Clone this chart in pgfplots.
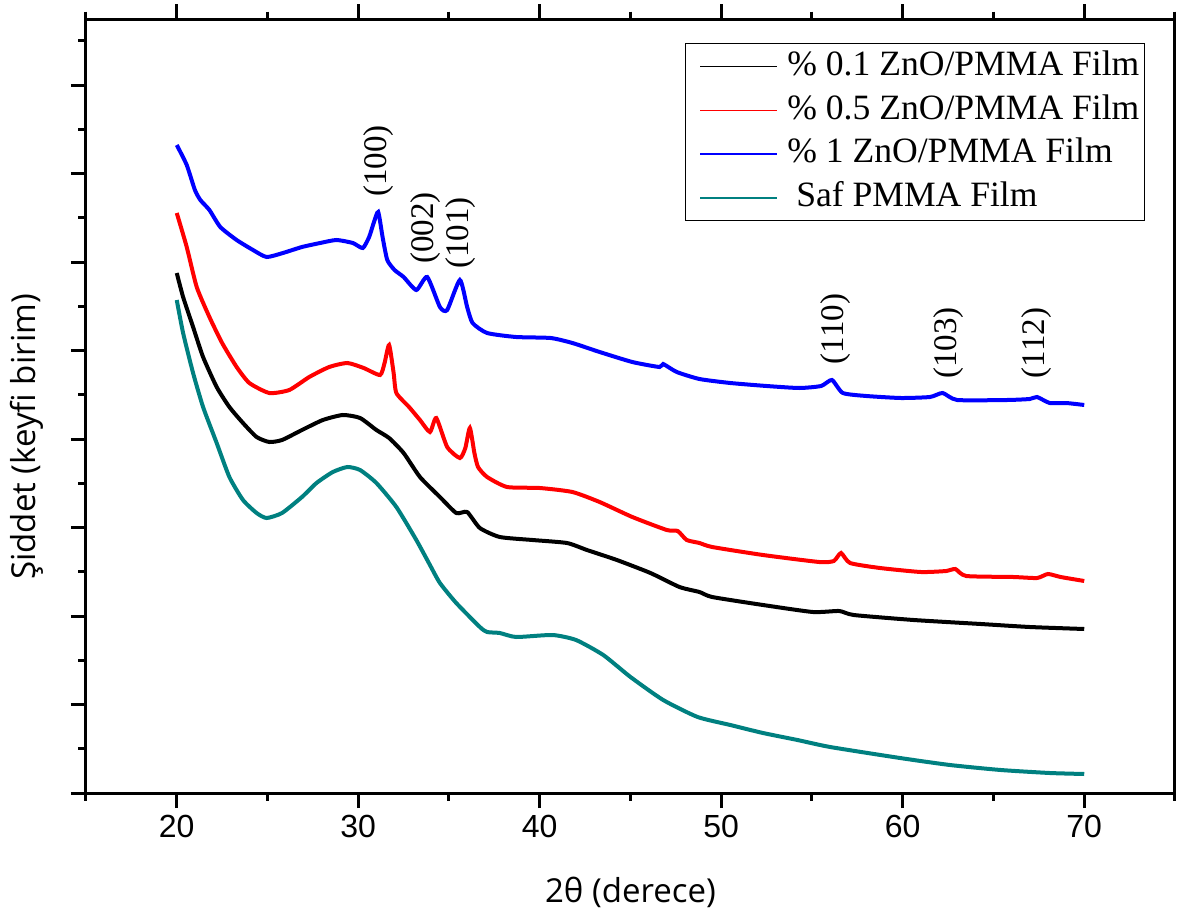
\documentclass[border=0pt]{standalone}
\usepackage{pgfplots}
\pgfplotsset{compat=1.18}
\usepackage{fontspec}
\setmainfont{Liberation Serif}
\newfontfamily\lblfont{Open Sans}
\newfontfamily\tckfont{Liberation Sans}
\definecolor{tealc}{RGB}{0,128,128}

\pgfplotstableread{
x y
20.0 520
20.35 496
20.9 466
21.45 436
22.2 406
22.9 386
23.65 370
24.4 356
25.1 351
25.8 353
26.9 363
28.05 373
29.15 378
30.1 375
31.0 363
31.7 355
32.5 340
33.4 316
34.5 296
35.4 280
36.0 281
36.7 265
37.8 256
39.6 253
41.5 250
42.6 243
44.25 233
46.1 220
47.7 206
48.8 201
49.5 196
52.3 188
55.05 181
56.5 182
57.3 178
60.6 173
64.3 169
67.0 166
70.0 164
}\blackdata

\pgfplotstableread{
x y
20.0 580
20.55 546
21.1 506
21.8 476
22.5 450
23.3 426
24.0 410
25.1 400
26.2 403
27.3 416
28.4 426
29.4 430
30.3 425
31.2 418
31.45 430
31.7 448
31.95 420
32.1 400
32.8 386
33.4 373
33.95 361
34.3 375
34.9 346
35.6 335
35.9 345
36.15 365
36.4 340
36.6 326
37.1 316
38.2 306
40.0 305
41.8 301
43.3 291
45.1 276
47.0 263
47.6 262
48.1 253
48.8 250
49.5 246
52.3 238
55.4 231
56.2 232
56.6 240
57.1 230
58.75 225
61.0 221
62.4 222
62.9 224
63.5 217
66.1 216
67.4 215
68.0 219
68.7 216
70.0 212
}\reddata

\pgfplotstableread{
x y
20.0 648
20.55 628
21.0 603
21.3 593
21.8 583
22.4 566
23.3 553
24.2 543
24.95 536
25.85 540
26.9 546
27.9 550
28.8 553
29.7 550
30.25 545
30.6 556
30.85 570
31.1 581
31.35 555
31.6 533
32.0 523
32.5 516
33.2 503
33.8 516
34.5 486
34.9 483
35.6 513
36.0 486
36.3 470
37.1 460
38.7 456
40.6 455
41.8 450
43.3 441
45.1 431
46.6 426
46.8 429
47.55 421
48.8 414
50.5 410
52.5 407
54.3 405
55.5 407
56.1 413
56.7 400
58.0 397
59.9 395
61.5 396
62.2 400
63.0 393
65.75 393
67.0 394
67.4 396
68.1 390
69.0 390
70.0 388
}\bluedata

\pgfplotstableread{
x y
20.0 493
20.35 460
20.9 420
21.45 386
22.2 350
22.9 316
23.65 293
24.4 280
24.95 275
25.8 280
26.9 296
27.7 310
28.6 321
29.4 326
30.1 323
31.0 310
32.1 286
33.2 253
33.95 228
34.5 210
35.4 190
36.7 166
37.1 161
37.8 160
38.7 156
40.7 158
42.0 153
43.5 138
45.0 116
46.8 93
48.7 76
50.5 68
52.3 60
54.2 53
56.0 46
59.85 35
62.6 28
65.4 23
68.1 20
70.0 19
}\tealdata

\begin{document}
\begin{tikzpicture}
\path[use as bounding box] (-43pt,-62.5pt) rectangle (549.5pt,396.5pt);
\begin{axis}[
  at={(0,0)}, anchor=south west,
  scale only axis, width=544.5pt, height=387pt,
  xmin=15, xmax=75, ymin=0, ymax=774,
  axis line style={line width=1.5pt},
  every tick/.style={black, line width=1.5pt},
  tick align=outside,
  major tick length=7.5pt, minor tick length=3.75pt,
  xtick={20,30,...,70}, minor xtick={15,25,...,75},
  xtick pos=both, xticklabel pos=bottom,
  ytick={0,88.5,177,265.5,354,442.5,531,619.5,708},
  minor ytick={44.25,132.75,221.25,309.75,398.25,486.75,575.25,663.75,752.25},
  ytick pos=left, yticklabels={},
  /pgf/number format/assume math mode=true,
  xticklabel style={font=\tckfont\fontsize{16}{19}\selectfont},
  xlabel={2θ (derece)},
  ylabel={Şiddet (keyfi birim)},
  xlabel style={font=\lblfont\fontsize{16.5}{20}\selectfont, at={(axis description cs:0.5,-0.129)}, anchor=center},
  ylabel style={font=\lblfont\fontsize{16.5}{20}\selectfont, at={(axis description cs:-0.0542,0.46)}, anchor=center},
  legend cell align=left,
  legend style={at={(axis description cs:0.9725,0.969)}, anchor=north east,
    draw=black, line width=0.6pt,
    font=\fontsize{17.8}{21}\selectfont,
    inner xsep=2.5pt, inner ysep=0.5pt,
    nodes={inner ysep=2.75pt, inner xsep=0pt, text height=12.6pt, text depth=3.8pt}},
  legend image code/.code={\draw[#1] (0pt,0pt) -- (38.5pt,0pt);
    \path[draw=none] (-5pt,0pt) -- (43.5pt,0pt);},
]
\addplot[black, smooth, tension=0.35, line width=2pt, forget plot] table[x=x,y=y] {\blackdata};
\addplot[red, smooth, tension=0.35, line width=2pt, forget plot] table[x=x,y=y] {\reddata};
\addplot[blue, smooth, tension=0.35, line width=2pt, forget plot] table[x=x,y=y] {\bluedata};
\addplot[tealc, smooth, tension=0.35, line width=2pt, forget plot] table[x=x,y=y] {\tealdata};

\addlegendimage{black, line width=0.7pt}
\addlegendentry{\% 0.1 ZnO/PMMA Film}
\addlegendimage{red, line width=0.7pt}
\addlegendentry{\% 0.5 ZnO/PMMA Film}
\addlegendimage{blue, line width=0.7pt}
\addlegendentry{\% 1 ZnO/PMMA Film}
\addlegendimage{tealc, line width=0.7pt}
\addlegendentry{\ Saf PMMA Film}

\begin{scope}[every node/.style={rotate=90, font=\fontsize{16.5}{19}\selectfont, inner sep=0pt}]
\node at (axis cs:31.1,632) {(100)};
\node at (axis cs:33.7,565) {(002)};
\node at (axis cs:35.65,560) {(101)};
\node at (axis cs:56.3,464) {(110)};
\node at (axis cs:62.5,450) {(103)};
\node at (axis cs:67.35,450) {(112)};
\end{scope}
\end{axis}
\end{tikzpicture}
\end{document}
